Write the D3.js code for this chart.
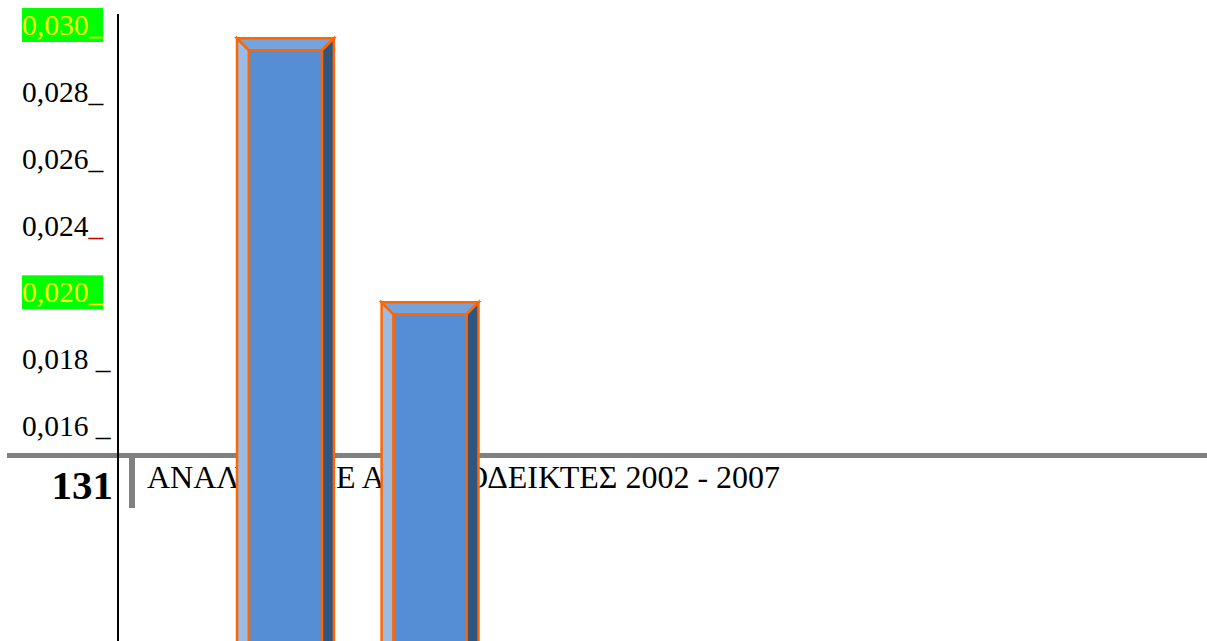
<!DOCTYPE html>
<html>
<head>
<meta charset="utf-8">
<script src="https://cdn.jsdelivr.net/npm/d3@7"></script>
<style>
  body { margin: 0; background: #fff; }
  svg { display: block; }
  text { font-family: "Liberation Serif", "Times New Roman", serif; }
</style>
</head>
<body>
<svg id="chart" width="1207" height="641"></svg>
<script>
// values
var categories = ['A', 'B'];
var barValues = [0.0299, 0.0200];
var tickValues = [0.030, 0.028, 0.026, 0.024, 0.020, 0.018, 0.016];
var tickLabels = ['0,030_', '0,028_', '0,026_', '0,024_', '0,020_', '0,018 _', '0,016 _'];
var pageNumber = '131';
var headerText = 'ΑΝΑΛΥΣΗ ΜΕ ΑΡΙΘΜΟΔΕΙΚΤΕΣ 2002 - 2007';

var W = 1207, H = 641;
var svg = d3.select('#chart');

// labels sit on even slots, the value scale is built through them
var slot = d3.scalePoint().domain(tickLabels).range([35, 436]);
var y = d3.scaleLinear()
    .domain(tickValues)
    .range(tickValues.map(function(v, i) { return slot(tickLabels[i]); }));
var x = d3.scaleBand().domain(categories).range([237, 478.5]).paddingInner(0.33).paddingOuter(0);

// page header behind the bars
svg.append('rect').attr('x', 7).attr('y', 453).attr('width', W - 7).attr('height', 5).attr('fill', '#808080');
svg.append('rect').attr('x', 129).attr('y', 456).attr('width', 6).attr('height', 52).attr('fill', '#808080');
svg.append('text').attr('x', 113).attr('y', 499).attr('text-anchor', 'end')
    .attr('font-size', 41).attr('font-weight', 'bold').attr('fill', '#000').text(pageNumber);
svg.append('text').attr('x', 147).attr('y', 488).attr('font-size', 32).attr('fill', '#000').text(headerText);

// y axis line
svg.append('line').attr('x1', 118).attr('x2', 118).attr('y1', 14).attr('y2', H)
    .attr('stroke', '#000').attr('stroke-width', 2);

// bevelled bars
var d = 12, edge = '#ff6600';
var bars = svg.selectAll('g.bar').data(barValues).enter().append('g').attr('class', 'bar');
bars.each(function(v, i) {
    var g = d3.select(this);
    var x0 = x(categories[i]), x1 = x0 + x.bandwidth();
    var y0 = y(v), yb = H + 20;
    function poly(pts, fill) {
        g.append('polygon').attr('points', pts.map(function(p) { return p.join(','); }).join(' '))
            .attr('fill', fill).attr('stroke', edge).attr('stroke-width', 2.5).attr('stroke-linejoin', 'miter');
    }
    poly([[x0, y0], [x0 + d, y0 + d], [x0 + d, yb], [x0, yb]], '#9bbbe4');
    poly([[x0, y0], [x1, y0], [x1 - d, y0 + d], [x0 + d, y0 + d]], '#77a3dd');
    poly([[x1, y0], [x1, yb], [x1 - d, yb], [x1 - d, y0 + d]], '#31557f');
    poly([[x0 + d, y0 + d], [x1 - d, y0 + d], [x1 - d, yb], [x0 + d, yb]], '#558ed5');
});

// tick labels, two of them highlighted
var highlight = { '0,030_': true, '0,020_': true };
var ticks = svg.selectAll('g.tick').data(tickLabels).enter().append('g').attr('class', 'tick');
ticks.each(function(lbl) {
    var g = d3.select(this);
    var yy = slot(lbl);
    var bg = g.append('rect');
    var t = g.append('text').attr('x', 22).attr('y', yy).attr('font-size', 29.5);
    if (lbl === '0,024_') {
        t.append('tspan').attr('fill', '#000').text(lbl.slice(0, -1));
        t.append('tspan').attr('fill', '#c00000').text('_');
    } else {
        t.attr('fill', highlight[lbl] ? '#ffff00' : '#000').text(lbl);
    }
    if (highlight[lbl]) {
        bg.attr('x', 22).attr('y', yy - 27).attr('width', t.node().getComputedTextLength())
            .attr('height', 34).attr('fill', '#00ff00');
    } else {
        bg.remove();
    }
});
</script>
</body>
</html>
